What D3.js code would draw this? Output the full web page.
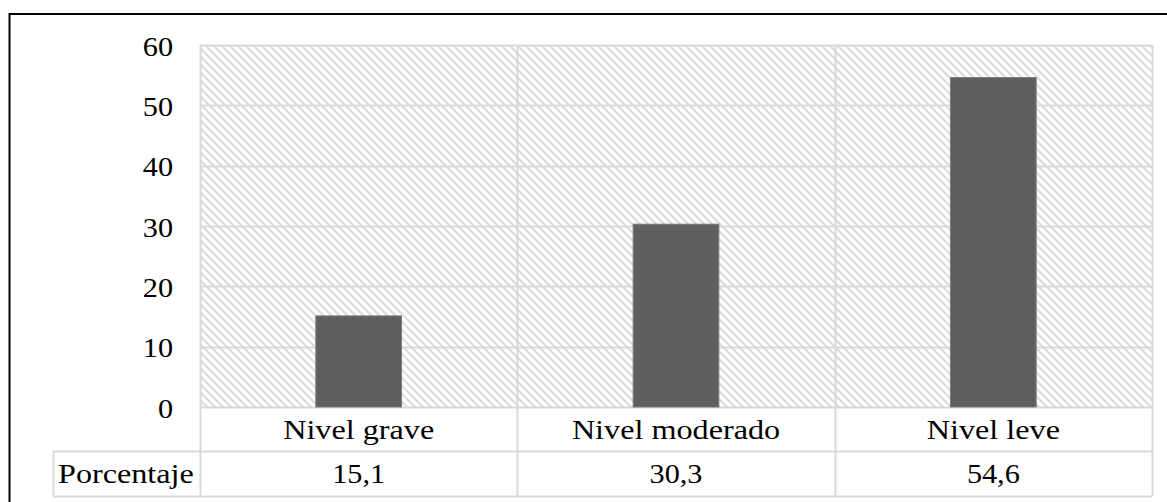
<!DOCTYPE html>
<html>
<head>
<meta charset="utf-8">
<script src="https://cdn.jsdelivr.net/npm/d3@7"></script>
<style>
  html, body { margin: 0; padding: 0; background: #fff; }
  svg { display: block; }
</style>
</head>
<body>
<script>
const categories = ["Nivel grave", "Nivel moderado", "Nivel leve"];
const values = [15.1, 30.3, 54.6];
const valueLabels = ["15,1", "30,3", "54,6"];
const seriesName = "Porcentaje";
const yTicks = [0, 10, 20, 30, 40, 50, 60];

const W = 1167, H = 502;
const plot = { left: 200, right: 1152, top: 45, bottom: 407 };
const tableRows = [407, 451, 496];
const tableLeft = 53;
const gridColor = "#d9d9d9";
const FONT = '"Times New Roman", "Tinos", "Times", serif';
const FS = 28;
const SX_WORD = 1.15, SX_NUM = 1.08;

const svg = d3.select("body").append("svg").attr("width", W).attr("height", H);

const defs = svg.append("defs");
const pat = defs.append("pattern")
  .attr("id", "hatch").attr("patternUnits", "userSpaceOnUse")
  .attr("width", 8).attr("height", 8);
pat.append("rect").attr("width", 8).attr("height", 8).attr("fill", "#fff");
pat.append("path")
  .attr("d", "M-2,-2 L10,10 M-2,6 L2,10 M6,-2 L10,2")
  .attr("stroke", "#dadada").attr("stroke-width", 2).attr("fill", "none");

// outer border (only top/left visible)
svg.append("rect").attr("x", 9.5).attr("y", 14).attr("width", 1300).attr("height", 600)
  .attr("fill", "none").attr("stroke", "#000").attr("stroke-width", 2);

const x = d3.scaleBand().domain(categories).range([plot.left, plot.right]).paddingInner(0).paddingOuter(0);
const y = d3.scaleLinear().domain([0, 60]).range([plot.bottom, plot.top]);

// hatched plot background
svg.append("rect").attr("x", plot.left).attr("y", plot.top)
  .attr("width", plot.right - plot.left).attr("height", plot.bottom - plot.top)
  .attr("fill", "url(#hatch)");

// horizontal gridlines
svg.append("g").selectAll("line").data(yTicks).join("line")
  .attr("x1", plot.left).attr("x2", plot.right)
  .attr("y1", d => Math.round(y(d)) + 0.5).attr("y2", d => Math.round(y(d)) + 0.5)
  .attr("stroke", gridColor).attr("stroke-width", 2);

// vertical category separators (extend through table)
const seps = categories.map(c => x(c)).concat([plot.right]);
svg.append("g").selectAll("line").data(seps).join("line")
  .attr("x1", d => Math.round(d) + 0.5).attr("x2", d => Math.round(d) + 0.5)
  .attr("y1", plot.top).attr("y2", tableRows[2])
  .attr("stroke", gridColor).attr("stroke-width", 2);

// table horizontal lines
svg.append("g").selectAll("line").data([tableRows[1], tableRows[2]]).join("line")
  .attr("x1", tableLeft).attr("x2", plot.right)
  .attr("y1", d => d + 0.5).attr("y2", d => d + 0.5)
  .attr("stroke", gridColor).attr("stroke-width", 2);
svg.append("line")
  .attr("x1", tableLeft + 0.5).attr("x2", tableLeft + 0.5)
  .attr("y1", tableRows[1]).attr("y2", tableRows[2])
  .attr("stroke", gridColor).attr("stroke-width", 2);

// bars
const barW = x.bandwidth() * 0.27;
svg.append("g").selectAll("rect").data(values).join("rect")
  .attr("x", (d, i) => x(categories[i]) + x.bandwidth() / 2 - barW / 2)
  .attr("y", d => y(d))
  .attr("width", barW)
  .attr("height", d => y(0) - y(d))
  .attr("fill", "#5f5f5f").attr("stroke", "#7a7a7a").attr("stroke-width", 1);

function label(g, tx, ty, txt, anchor, sx) {
  g.append("text")
    .attr("transform", `translate(${tx},${ty}) scale(${sx},1)`)
    .attr("text-anchor", anchor)
    .attr("font-family", FONT).attr("font-size", FS).attr("fill", "#000")
    .text(txt);
}

// y axis labels
const gy = svg.append("g");
yTicks.forEach(t => label(gy, 173, y(t) + 10.5, t, "end", SX_NUM));

// category labels (table row 1)
const gc = svg.append("g");
categories.forEach(c => label(gc, x(c) + x.bandwidth() / 2, 438.5, c, "middle", SX_WORD));

// values row
const gv = svg.append("g");
valueLabels.forEach((v, i) => label(gv, x(categories[i]) + x.bandwidth() / 2, 483, v, "middle", SX_NUM));

label(svg.append("g"), 58, 483, seriesName, "start", SX_WORD);
</script>
</body>
</html>
